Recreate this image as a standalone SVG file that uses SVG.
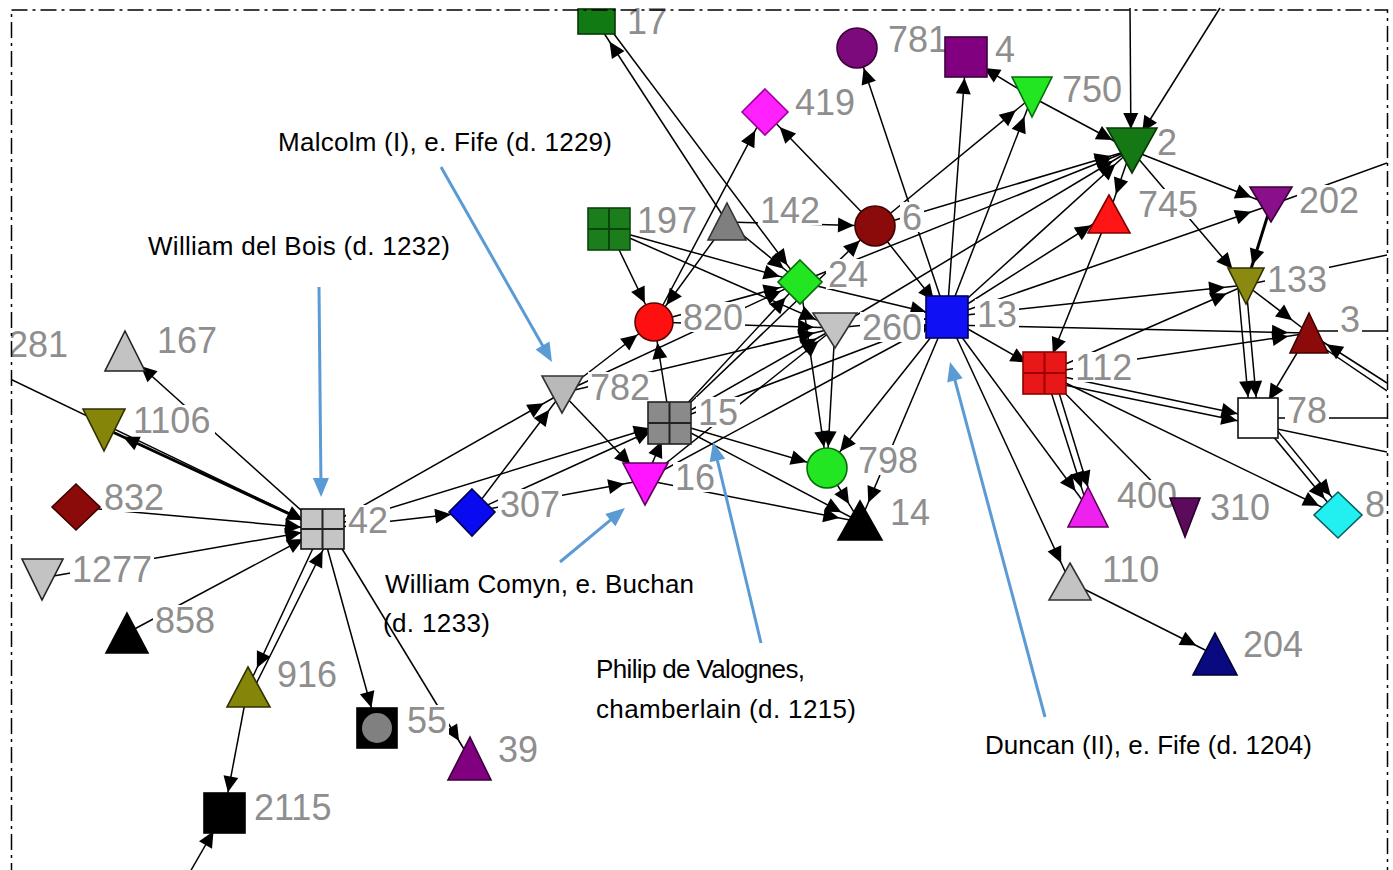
<svg xmlns="http://www.w3.org/2000/svg" width="1393" height="870" viewBox="0 0 1393 870">
<style>
  .lbl{font-family:"Liberation Sans",Arial,sans-serif;font-size:36px;fill:#8e8e8e}
  .lb{fill:#fff}
  .ann{font-family:"Liberation Sans",Arial,sans-serif;font-size:26px;fill:#000}
  .sh{stroke-width:1.6}
  .grid{fill:none;stroke-width:2}
  #edges line{stroke:#000;stroke-width:1.5;marker-end:url(#ah)}
  #edges line.n{marker-end:none}
  #edges line.t{stroke-width:3}
  .callout line{stroke:#5b9bd5;stroke-width:3;marker-end:url(#bh)}
</style>
<defs>
  <marker id="ah" markerUnits="userSpaceOnUse" orient="auto-start-reverse" markerWidth="1" markerHeight="1" refX="0" refY="0" overflow="visible">
    <path d="M-21,0 L-37,-7.5 L-37,7.5 Z" fill="#000"/>
  </marker>
  <marker id="bh" markerUnits="userSpaceOnUse" orient="auto" markerWidth="1" markerHeight="1" refX="0" refY="0" overflow="visible">
    <path d="M8,0 L-11,-8 L-11,8 Z" fill="#5b9bd5"/>
  </marker>
  <clipPath id="frame"><rect x="11" y="0" width="1376" height="870"/></clipPath>
</defs>
<rect width="1393" height="870" fill="#fff"/>

<g clip-path="url(#frame)">
<g id="edges">
  <!-- left cluster around 42 -->
  <line x1="322" y1="529" x2="125" y2="352"/>
  <line class="t" x1="322" y1="529" x2="104" y2="428"/>
  <line x1="8" y1="378" x2="322" y2="529"/>
  <line x1="76" y1="507" x2="322" y2="529"/>
  <line x1="42" y1="578" x2="322" y2="529"/>
  <line x1="127" y1="633" x2="322" y2="529"/>
  <line x1="322" y1="529" x2="248" y2="687"/>
  <line x1="256" y1="684" x2="332" y2="532"/>
  <line x1="248" y1="687" x2="224" y2="813"/>
  <line x1="190" y1="872" x2="224" y2="813"/>
  <line x1="322" y1="529" x2="377" y2="728"/>
  <line x1="330" y1="529" x2="470" y2="759"/>
  <line x1="322" y1="529" x2="472" y2="512"/>
  <line x1="322" y1="529" x2="562" y2="393"/>
  <line x1="322" y1="529" x2="670" y2="422"/>
  <!-- 307 / 782 / 15 / 16 -->
  <line x1="472" y1="512" x2="645" y2="480"/>
  <line x1="472" y1="512" x2="562" y2="393"/>
  <line x1="472" y1="512" x2="670" y2="422"/>
  <line x1="562" y1="393" x2="645" y2="480"/>
  <line x1="562" y1="393" x2="654" y2="322"/>
  <line x1="670" y1="422" x2="654" y2="322"/>
  <line x1="609" y1="229" x2="654" y2="322"/>
  <line x1="727" y1="222" x2="654" y2="322"/>
  <line x1="645" y1="480" x2="670" y2="422"/>
  <!-- upper middle -->
  <line x1="727" y1="222" x2="598" y2="24"/>
  <line x1="605" y1="22" x2="800" y2="282"/>
  <line x1="654" y1="322" x2="765" y2="112"/>
  <line x1="875" y1="226" x2="765" y2="112"/>
  <line x1="947" y1="317" x2="857" y2="48"/>
  <line x1="727" y1="222" x2="875" y2="226"/>
  <line x1="609" y1="229" x2="800" y2="282"/>
  <line x1="609" y1="229" x2="835" y2="328"/>
  <line x1="947" y1="317" x2="966" y2="57"/>
  <line x1="947" y1="317" x2="1032" y2="97"/>
  <line x1="875" y1="226" x2="1032" y2="97"/>
  <line x1="1032" y1="97" x2="966" y2="57"/>
  <line x1="1032" y1="97" x2="1131" y2="150"/>
  <line x1="1130" y1="8" x2="1131" y2="150"/>
  <line x1="1220" y1="8" x2="1131" y2="150"/>
  <line x1="1131" y1="150" x2="1271" y2="205"/>
  <line x1="947" y1="317" x2="1131" y2="150"/>
  <line x1="875" y1="226" x2="1131" y2="150"/>
  <line x1="800" y1="282" x2="1131" y2="150"/>
  <line x1="835" y1="328" x2="1131" y2="150"/>
  <line x1="947" y1="317" x2="1109" y2="214"/>
  <line x1="1131" y1="150" x2="1109" y2="214"/>
  <line x1="947" y1="317" x2="1271" y2="205"/>
  <line class="t" x1="1271" y1="205" x2="1246" y2="285"/>
  <line x1="947" y1="317" x2="1246" y2="285"/>
  <line x1="1045" y1="373" x2="1246" y2="285"/>
  <line x1="947" y1="325" x2="1309" y2="333"/>
  <line x1="1246" y1="285" x2="1309" y2="333"/>
  <line x1="1246" y1="285" x2="1258" y2="418"/>
  <line x1="1238" y1="287" x2="1250" y2="418"/>
  <line x1="1309" y1="333" x2="1258" y2="418"/>
  <line x1="1045" y1="373" x2="1258" y2="418"/>
  <line x1="1045" y1="381" x2="1258" y2="425"/>
  <line x1="1258" y1="418" x2="1338" y2="515"/>
  <line x1="1267" y1="418" x2="1344" y2="512"/>
  <line x1="1045" y1="373" x2="1338" y2="515"/>
  <line x1="1109" y1="214" x2="1045" y2="373"/>
  <line x1="947" y1="317" x2="1045" y2="373"/>
  <line x1="1045" y1="373" x2="1088" y2="508"/>
  <line x1="1053" y1="373" x2="1094" y2="507"/>
  <line x1="947" y1="317" x2="1088" y2="508"/>
  <line x1="947" y1="317" x2="1070" y2="582"/>
  <line x1="1070" y1="582" x2="1215" y2="655"/>
  <line class="n" x1="1045" y1="373" x2="1185" y2="515"/>
  <line x1="1131" y1="150" x2="1246" y2="285"/>
  <line x1="1045" y1="373" x2="1309" y2="333"/>
  <!-- lines leaving the frame on the right -->
  <line class="n" x1="1271" y1="205" x2="1387" y2="163"/>
  <line class="n" x1="1246" y1="285" x2="1387" y2="255"/>
  <line class="n" x1="1309" y1="331" x2="1387" y2="331"/>
  <line x1="1387" y1="383" x2="1309" y2="333"/>
  <line class="n" x1="1387" y1="391" x2="1312" y2="340"/>
  <line class="n" x1="1258" y1="418" x2="1387" y2="418"/>
  <line class="n" x1="1258" y1="425" x2="1387" y2="452"/>
  <!-- dense core around 13 / 260 / 24 -->
  <line x1="835" y1="328" x2="947" y2="317"/>
  <line x1="800" y1="282" x2="947" y2="317"/>
  <line x1="875" y1="226" x2="947" y2="317"/>
  <line x1="947" y1="317" x2="827" y2="468"/>
  <line x1="947" y1="317" x2="860" y2="522"/>
  <line x1="835" y1="328" x2="827" y2="468"/>
  <line x1="670" y1="422" x2="827" y2="468"/>
  <line x1="670" y1="422" x2="860" y2="522"/>
  <line x1="645" y1="480" x2="860" y2="522"/>
  <line x1="800" y1="282" x2="827" y2="468"/>
  <line x1="654" y1="322" x2="800" y2="282"/>
  <line x1="562" y1="393" x2="800" y2="282"/>
  <line x1="670" y1="422" x2="947" y2="317"/>
  <line x1="645" y1="480" x2="947" y2="317"/>
  <line x1="670" y1="422" x2="835" y2="328"/>
  <line x1="670" y1="422" x2="800" y2="282"/>
  <line x1="727" y1="222" x2="800" y2="282"/>
  <line x1="670" y1="422" x2="875" y2="226"/>
  <line x1="827" y1="468" x2="860" y2="522"/>
  <line x1="654" y1="322" x2="835" y2="328"/>
  <line x1="562" y1="393" x2="835" y2="328"/>
  <line x1="645" y1="480" x2="835" y2="328"/>
</g>

<!-- nodes -->
<g id="n281"><rect class="lb" x="6" y="329" width="64" height="30"/><text class="lbl" x="8" y="357">281</text></g>
<g id="n17"><rect class="lb" x="625" y="4" width="44" height="31"/><rect class="sh" x="578" y="9" width="37" height="25" fill="#127a12" stroke="#063806"/><text class="lbl" x="627" y="34">17</text></g>
<g id="n781"><rect class="lb" x="886" y="24" width="58" height="30"/><circle class="sh" cx="857" cy="48" r="20" fill="#7d0a7d" stroke="#3a003a"/><text class="lbl" x="888" y="52">781</text></g>
<g id="n4"><rect class="lb" x="993" y="34" width="24" height="30"/><rect class="sh" x="945" y="37" width="42" height="40" fill="#800080" stroke="#3a003a"/><text class="lbl" x="995" y="62">4</text></g>
<g id="n750"><rect class="lb" x="1060" y="74" width="64" height="30"/><polygon class="sh" points="1012,77 1052,77 1032,117" fill="#22e622" stroke="#0a6a0a"/><text class="lbl" x="1062" y="102">750</text></g>
<g id="n2"><rect class="lb" x="1155" y="127" width="24" height="30"/><polygon class="sh" points="1107,128 1157,128 1132,173" fill="#147814" stroke="#063806"/><text class="lbl" x="1157" y="155">2</text></g>
<g id="n745"><rect class="lb" x="1136" y="189" width="64" height="30"/><polygon class="sh" points="1109,195 1130,233 1088,233" fill="#ff1515" stroke="#800000"/><text class="lbl" x="1138" y="217">745</text></g>
<g id="n202"><rect class="lb" x="1297" y="185" width="64" height="30"/><polygon class="sh" points="1250,187 1292,187 1271,222" fill="#8a0f8a" stroke="#3a003a"/><text class="lbl" x="1299" y="213">202</text></g>
<g id="n419"><rect class="lb" x="793" y="87" width="64" height="30"/><polygon class="sh" points="765,89 788,112 765,135 742,112" fill="#ff22ff" stroke="#a000a0"/><text class="lbl" x="795" y="115">419</text></g>
<g id="n142"><rect class="lb" x="758" y="195" width="64" height="30"/><polygon class="sh" points="727,203 746,240 708,240" fill="#7f7f7f" stroke="#333"/><text class="lbl" x="760" y="223">142</text></g>
<g id="n197"><rect class="lb" x="635" y="205" width="64" height="30"/><rect class="sh" x="588" y="208" width="42" height="42" fill="#1b7d1b" stroke="#0a450a"/><path class="grid" d="M609 208V250M588 229H630" stroke="#0a450a"/><text class="lbl" x="637" y="233">197</text></g>
<g id="n6"><rect class="lb" x="900" y="202" width="24" height="30"/><circle class="sh" cx="875" cy="226" r="20" fill="#8b0a0a" stroke="#400000"/><text class="lbl" x="902" y="230">6</text></g>
<g id="n24"><rect class="lb" x="826" y="259" width="44" height="30"/><polygon class="sh" points="800,260 822,282 800,304 778,282" fill="#22e622" stroke="#0a6a0a"/><text class="lbl" x="828" y="287">24</text></g>
<g id="n820"><rect class="lb" x="681" y="302" width="64" height="30"/><circle class="sh" cx="654" cy="322" r="19" fill="#ff1010" stroke="#600000"/><text class="lbl" x="683" y="330">820</text></g>
<g id="n260"><rect class="lb" x="860" y="312" width="64" height="30"/><polygon class="sh" points="813,313 857,313 835,348" fill="#c3c3c3" stroke="#333"/><text class="lbl" x="862" y="340">260</text></g>
<g id="n13"><rect class="lb" x="975" y="299" width="44" height="30"/><rect class="sh" x="926" y="296" width="42" height="42" fill="#1010f5" stroke="#000060"/><text class="lbl" x="977" y="327">13</text></g>
<g id="n133"><rect class="lb" x="1265" y="264" width="64" height="30"/><polygon class="sh" points="1228,268 1264,268 1246,304" fill="#8a8a10" stroke="#303000"/><text class="lbl" x="1267" y="292">133</text></g>
<g id="n3"><rect class="lb" x="1338" y="304" width="24" height="30"/><polygon class="sh" points="1309,313 1328,353 1290,353" fill="#8b0a0a" stroke="#400000"/><text class="lbl" x="1340" y="332">3</text></g>
<g id="n112"><rect class="lb" x="1073" y="352" width="64" height="30"/><rect class="sh" x="1023" y="352" width="43" height="42" fill="#e81818" stroke="#900000"/><path class="grid" d="M1044.5 352V394M1023 373H1066" stroke="#a00000"/><text class="lbl" x="1075" y="380">112</text></g>
<g id="n78"><rect class="lb" x="1285" y="395" width="44" height="30"/><rect class="sh" x="1238" y="398" width="40" height="40" fill="#fff" stroke="#111"/><text class="lbl" x="1287" y="423">78</text></g>
<g id="n8"><rect class="lb" x="1363" y="489" width="24" height="30"/><polygon class="sh" points="1338,492 1362,515 1338,538 1314,515" fill="#22f0f0" stroke="#0a6060"/><text class="lbl" x="1365" y="517">8</text></g>
<g id="n782"><rect class="lb" x="588" y="372" width="64" height="30"/><polygon class="sh" points="542,376 583,376 562,413" fill="#b9b9b9" stroke="#333"/><text class="lbl" x="590" y="400">782</text></g>
<g id="n15"><rect class="lb" x="696" y="397" width="44" height="30"/><rect class="sh" x="648" y="402" width="43" height="42" fill="#8a8a8a" stroke="#222"/><path class="grid" d="M669.5 402V444M648 423H691" stroke="#222"/><text class="lbl" x="698" y="425">15</text></g>
<g id="n16"><rect class="lb" x="673" y="462" width="44" height="30"/><polygon class="sh" points="623,463 668,463 645,505" fill="#ff15ff" stroke="#600060"/><text class="lbl" x="675" y="490">16</text></g>
<g id="n307"><rect class="lb" x="498" y="489" width="64" height="30"/><polygon class="sh" points="472,489 495,512 472,536 449,512" fill="#0a0af0" stroke="#000050"/><text class="lbl" x="500" y="517">307</text></g>
<g id="n798"><rect class="lb" x="856" y="445" width="64" height="30"/><circle class="sh" cx="827" cy="468" r="20" fill="#22e622" stroke="#0a6a0a"/><text class="lbl" x="858" y="473">798</text></g>
<g id="n14"><rect class="lb" x="888" y="497" width="44" height="30"/><polygon class="sh" points="860,501 882,540 838,540" fill="#000" stroke="#000"/><text class="lbl" x="890" y="525">14</text></g>
<g id="n400"><rect class="lb" x="1115" y="480" width="64" height="30"/><polygon class="sh" points="1088,487 1108,527 1068,527" fill="#ee22ee" stroke="#600060"/><text class="lbl" x="1117" y="508">400</text></g>
<g id="n310"><rect class="lb" x="1208" y="492" width="64" height="30"/><polygon class="sh" points="1170,498 1200,498 1185,537" fill="#5c0a5c" stroke="#2a002a"/><text class="lbl" x="1210" y="520">310</text></g>
<g id="n110"><rect class="lb" x="1100" y="554" width="64" height="30"/><polygon class="sh" points="1070,563 1091,600 1049,600" fill="#c3c3c3" stroke="#333"/><text class="lbl" x="1102" y="582">110</text></g>
<g id="n204"><rect class="lb" x="1241" y="629" width="64" height="30"/><polygon class="sh" points="1215,633 1237,675 1193,675" fill="#0a0a80" stroke="#000030"/><text class="lbl" x="1243" y="657">204</text></g>
<g id="n42"><rect class="lb" x="346" y="505" width="44" height="30"/><rect class="sh" x="301" y="509" width="43" height="40" fill="#c5c5c5" stroke="#111"/><path class="grid" d="M322.5 509V549M301 529H344" stroke="#222"/><text class="lbl" x="348" y="533">42</text></g>
<g id="n167"><rect class="lb" x="155" y="325" width="64" height="30"/><polygon class="sh" points="125,331 145,371 105,371" fill="#c3c3c3" stroke="#222"/><text class="lbl" x="157" y="353">167</text></g>
<g id="n1106"><rect class="lb" x="131" y="405" width="84" height="30"/><polygon class="sh" points="83,409 125,409 104,451" fill="#85850a" stroke="#303000"/><text class="lbl" x="133" y="433">1106</text></g>
<g id="n832"><rect class="lb" x="102" y="482" width="64" height="30"/><polygon class="sh" points="76,484 100,507 76,530 52,507" fill="#8b0a0a" stroke="#400000"/><text class="lbl" x="104" y="510">832</text></g>
<g id="n1277"><rect class="lb" x="70" y="554" width="84" height="30"/><polygon class="sh" points="22,559 63,559 42,600" fill="#c3c3c3" stroke="#222"/><text class="lbl" x="72" y="582">1277</text></g>
<g id="n858"><rect class="lb" x="153" y="605" width="64" height="30"/><polygon class="sh" points="127,613 148,653 106,653" fill="#000" stroke="#000"/><text class="lbl" x="155" y="633">858</text></g>
<g id="n916"><rect class="lb" x="275" y="659" width="64" height="30"/><polygon class="sh" points="248,667 270,707 227,707" fill="#85850a" stroke="#303000"/><text class="lbl" x="277" y="687">916</text></g>
<g id="n55"><rect class="lb" x="405" y="705" width="44" height="30"/><rect class="sh" x="357" y="708" width="40" height="40" fill="#000" stroke="#000"/><circle cx="377" cy="728" r="15" fill="#808080"/><text class="lbl" x="407" y="733">55</text></g>
<g id="n39"><rect class="lb" x="496" y="734" width="44" height="30"/><polygon class="sh" points="470,737 491,780 448,780" fill="#800080" stroke="#3a003a"/><text class="lbl" x="498" y="762">39</text></g>
<g id="n2115"><rect class="lb" x="252" y="792" width="84" height="30"/><rect class="sh" x="204" y="793" width="41" height="40" fill="#000" stroke="#000"/><text class="lbl" x="254" y="820">2115</text></g>
</g>

<!-- frame -->
<rect x="11.5" y="10" width="1376" height="900" fill="none" stroke="#000" stroke-width="1.5" stroke-dasharray="16 5 3 5"/>

<!-- callouts -->
<g class="callout">
  <line x1="319" y1="287" x2="321" y2="489"/>
  <line x1="441" y1="167" x2="548" y2="355"/>
  <line x1="560" y1="562" x2="618.8" y2="513.1"/>
  <line x1="761" y1="643" x2="714.9" y2="449.8"/>
  <line x1="1045" y1="717" x2="952.1" y2="369.7"/>
</g>
<g id="annotations">
  <text class="ann" x="278" y="151" textLength="334">Malcolm (I), e. Fife (d. 1229)</text>
  <text class="ann" x="148" y="255" textLength="302">William del Bois (d. 1232)</text>
  <text class="ann" x="385" y="593" textLength="309">William Comyn, e. Buchan</text>
  <text class="ann" x="383" y="632" textLength="107">(d. 1233)</text>
  <text class="ann" x="596" y="678" textLength="209">Philip de Valognes,</text>
  <text class="ann" x="596" y="718" textLength="260">chamberlain (d. 1215)</text>
  <text class="ann" x="985" y="754" textLength="327">Duncan (II), e. Fife (d. 1204)</text>
</g>
</svg>
